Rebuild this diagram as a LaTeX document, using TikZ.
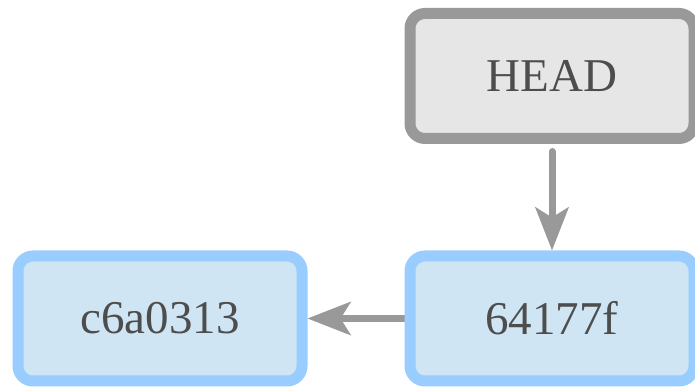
\documentclass[tikz,border=0pt]{standalone}
\usepackage{fontspec}
\setmainfont{Liberation Serif}
\usetikzlibrary{arrows.meta,backgrounds}
\definecolor{txt}{HTML}{4D4D4D}
\definecolor{grayfill}{HTML}{E6E6E6}
\definecolor{graystroke}{HTML}{999999}
\definecolor{bluefill}{HTML}{CFE5F3}
\definecolor{bluestroke}{HTML}{99CCFF}
\tikzset{
  box/.style={rectangle, rounded corners=15pt, line width=11pt,
    minimum width=284pt, minimum height=125pt, inner sep=0pt,
    font=\fontsize{47}{50}\selectfont, text=txt},
  headbox/.style={box, draw=graystroke, fill=grayfill},
  commitbox/.style={box, draw=bluestroke, fill=bluefill},
  conn/.style={draw=graystroke, line width=7pt, line cap=round,
    -{Stealth[length=43pt,width=33pt,inset=10pt,line cap=butt]}}
}
\begin{document}
\begin{tikzpicture}[x=1pt,y=1pt]
\useasboundingbox (0,0) rectangle (695,387);
\node[headbox] (head) at (552,311) {HEAD};
\node[commitbox] (c2) at (552,68.5) {64177f};
\node[commitbox] (c1) at (160,68.5) {c6a0313};
\begin{pgfonlayer}{background}
\draw[conn, shorten <=7.5pt] (head) -- (c2);
\draw[conn] (c2) -- (c1);
\end{pgfonlayer}
\end{tikzpicture}
\end{document}
